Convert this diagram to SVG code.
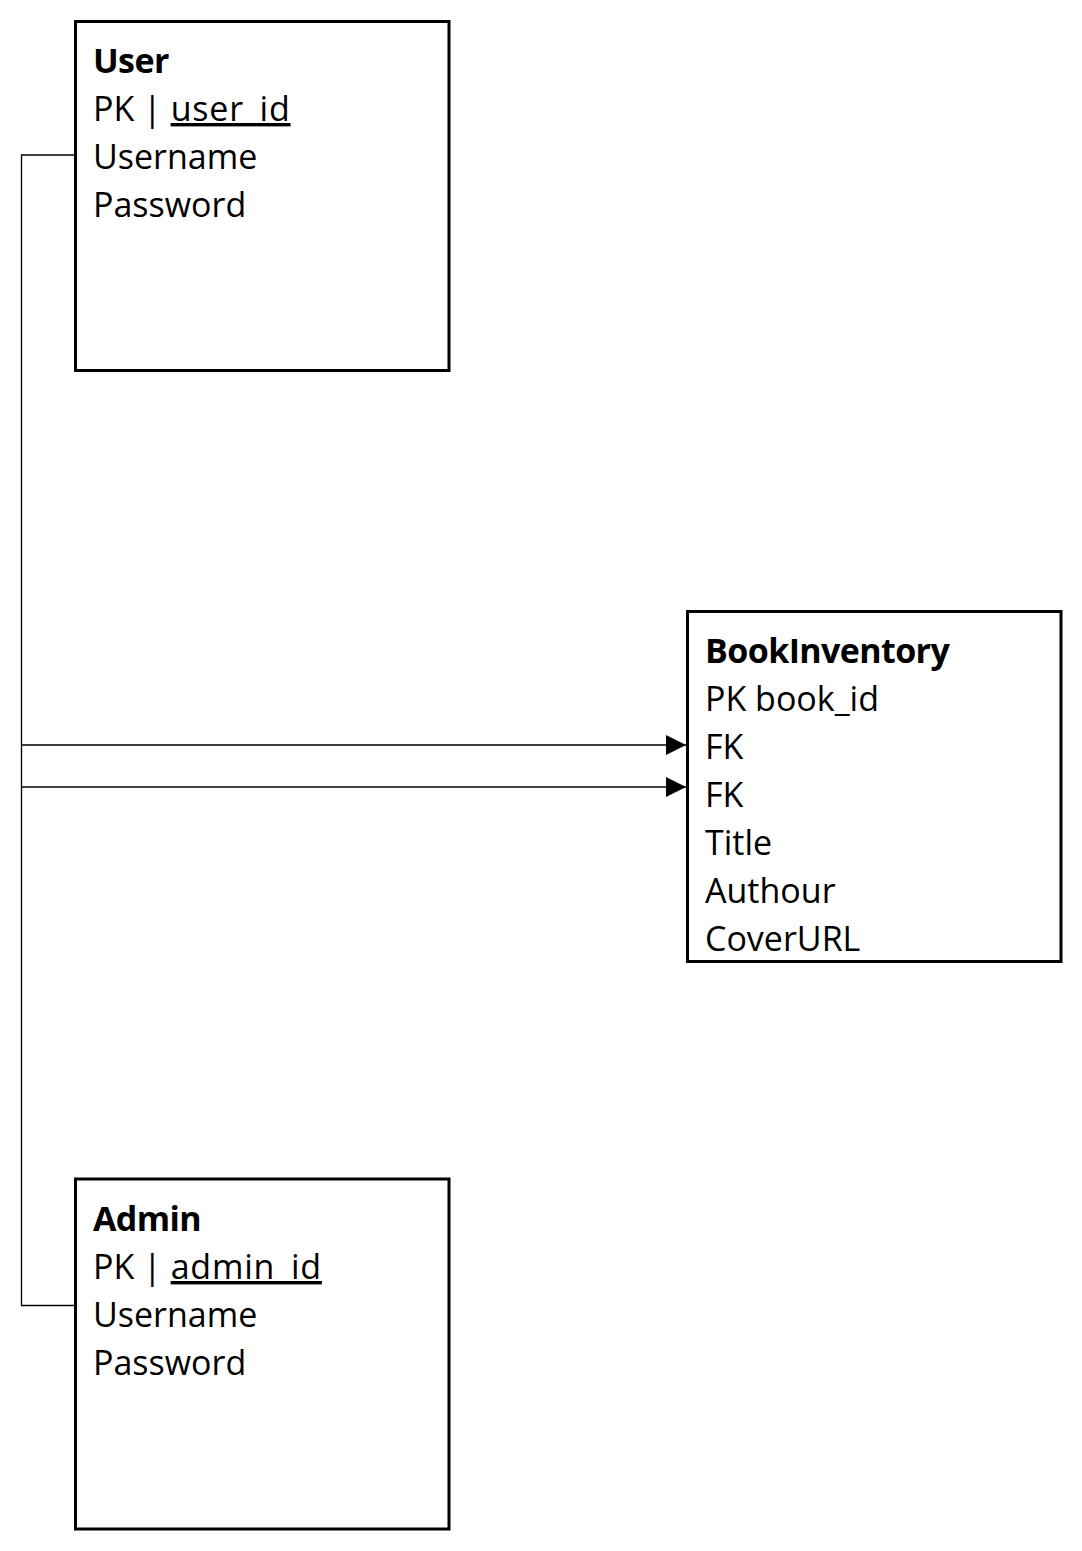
<svg xmlns="http://www.w3.org/2000/svg" width="1082" height="1551" viewBox="0 0 1082 1551">
<style>
  .box { fill: #ffffff; stroke: #000000; stroke-width: 3; }
  .t { font-family: "Open Sans", "Liberation Sans", sans-serif; font-size: 34px; fill: #000000; }
  .h { font-weight: bold; letter-spacing: -0.6px; }
  .u { text-decoration: underline; letter-spacing: 0.8px; }
  .c { fill: none; stroke: #000000; stroke-width: 1.3; }
</style>
<defs>
  <marker id="arr" markerWidth="20" markerHeight="20" viewBox="0 0 20 20" refX="20" refY="10" orient="auto" markerUnits="userSpaceOnUse">
    <path d="M0,0 L20,10 L0,20 Z" fill="#000000"/>
  </marker>
</defs>
<rect width="1082" height="1551" fill="#ffffff"/>
<g id="connectors">
  <polyline class="c" points="75,155 21.5,155 21.5,1305.5 75,1305.5"/>
  <line class="c" x1="21.5" y1="745" x2="686" y2="745" marker-end="url(#arr)"/>
  <line class="c" x1="21.5" y1="787" x2="686" y2="787" marker-end="url(#arr)"/>
</g>
<g id="user">
  <rect class="box" x="75.5" y="21.5" width="373.5" height="349"/>
  <text class="t h" x="93" y="73">User</text>
  <text class="t" x="93" y="121">PK | <tspan class="u">user_id</tspan></text>
  <text class="t" x="93" y="169">Username</text>
  <text class="t" x="93" y="217">Password</text>
</g>
<g id="bookinventory">
  <rect class="box" x="687.5" y="611.5" width="373.5" height="350"/>
  <text class="t h" x="705" y="663">BookInventory</text>
  <text class="t" x="705" y="711">PK book_id</text>
  <text class="t" x="705" y="759">FK</text>
  <text class="t" x="705" y="807">FK</text>
  <text class="t" x="705" y="855">Title</text>
  <text class="t" x="705" y="903">Authour</text>
  <text class="t" x="705" y="951">CoverURL</text>
</g>
<g id="admin">
  <rect class="box" x="75.5" y="1179" width="373.5" height="350"/>
  <text class="t h" x="93" y="1231">Admin</text>
  <text class="t" x="93" y="1279">PK | <tspan class="u">admin_id</tspan></text>
  <text class="t" x="93" y="1327">Username</text>
  <text class="t" x="93" y="1375">Password</text>
</g>
</svg>
